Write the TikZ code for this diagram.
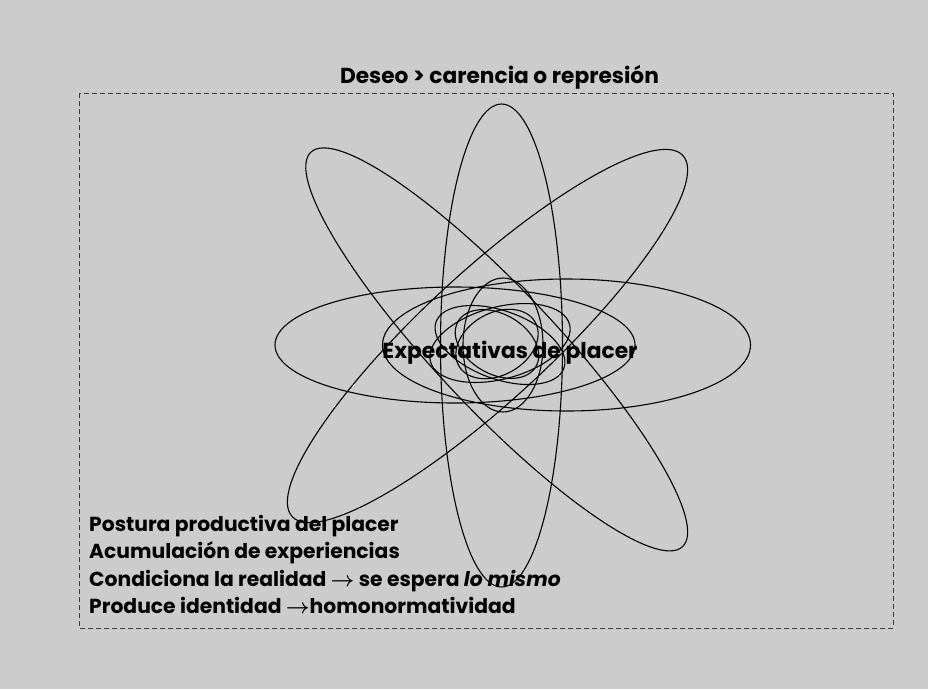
\documentclass[tikz,border=0pt]{standalone}
\usepackage{amsmath}
\usepackage{fontspec}
\setmainfont{Poppins}
\usetikzlibrary{positioning}
\definecolor{slideGrey}{RGB}{204,204,204}
\definecolor{frameGrey}{RGB}{60,60,60}
\tikzset{
    ring/.style={draw=black,line width=1.1pt},
    frame/.style={draw=frameGrey,line width=0.9pt,dash pattern=on 5pt off 3pt},
    heading/.style={font=\bfseries\fontsize{21.7}{25}\selectfont,inner sep=0pt},
    notes/.style={font=\bfseries\fontsize{20.3}{27.2}\selectfont,align=left,inner sep=0pt}
}
\newcommand{\ARROW}{$\boldsymbol{\rightarrow}$}

\begin{document}
\begin{tikzpicture}[x=1pt,y=1pt]
    \useasboundingbox (0,0) rectangle (928,-689);
    \fill[slideGrey] (0,0) rectangle (928,-689);
    \draw[frame] (79,-93.3) rectangle (893,-628.3);

    \draw[ring] (501.5,-345.5) ellipse [x radius=61, y radius=241.5];
    \draw[ring] (496.7,-349.4) ellipse [x radius=271, y radius=60, rotate=-46.7];
    \draw[ring] (487.5,-336) ellipse [x radius=266, y radius=64, rotate=42.75];
    \draw[ring] (455,-345) ellipse [x radius=180, y radius=58];
    \draw[ring] (566.5,-345) ellipse [x radius=184, y radius=66];

    \draw[ring] (503,-345) ellipse [x radius=40, y radius=67];
    \draw[ring] (500,-343) ellipse [x radius=72, y radius=36, rotate=15];
    \draw[ring] (500,-345) ellipse [x radius=68, y radius=34, rotate=-20];
    \draw[ring] (497,-344) ellipse [x radius=44, y radius=31, rotate=30];
    \draw[ring] (497,-344) ellipse [x radius=45, y radius=30, rotate=-30];

    \node[heading,anchor=base] (title) at (499.5,-83.3) {Deseo > carencia o represión};
    \node[heading,font=\bfseries\fontsize{21.8}{26}\selectfont,anchor=base] (core) at (510,-358.3) {Expectativas de placer};
    \node[notes,anchor=base west] (notes) at (89,-613.3) {Postura productiva del placer\\
        Acumulación de experiencias\\
        Condiciona la realidad \ARROW{} se espera \textit{lo mismo}\\
        Produce identidad \ARROW homonormatividad};
\end{tikzpicture}
\end{document}
